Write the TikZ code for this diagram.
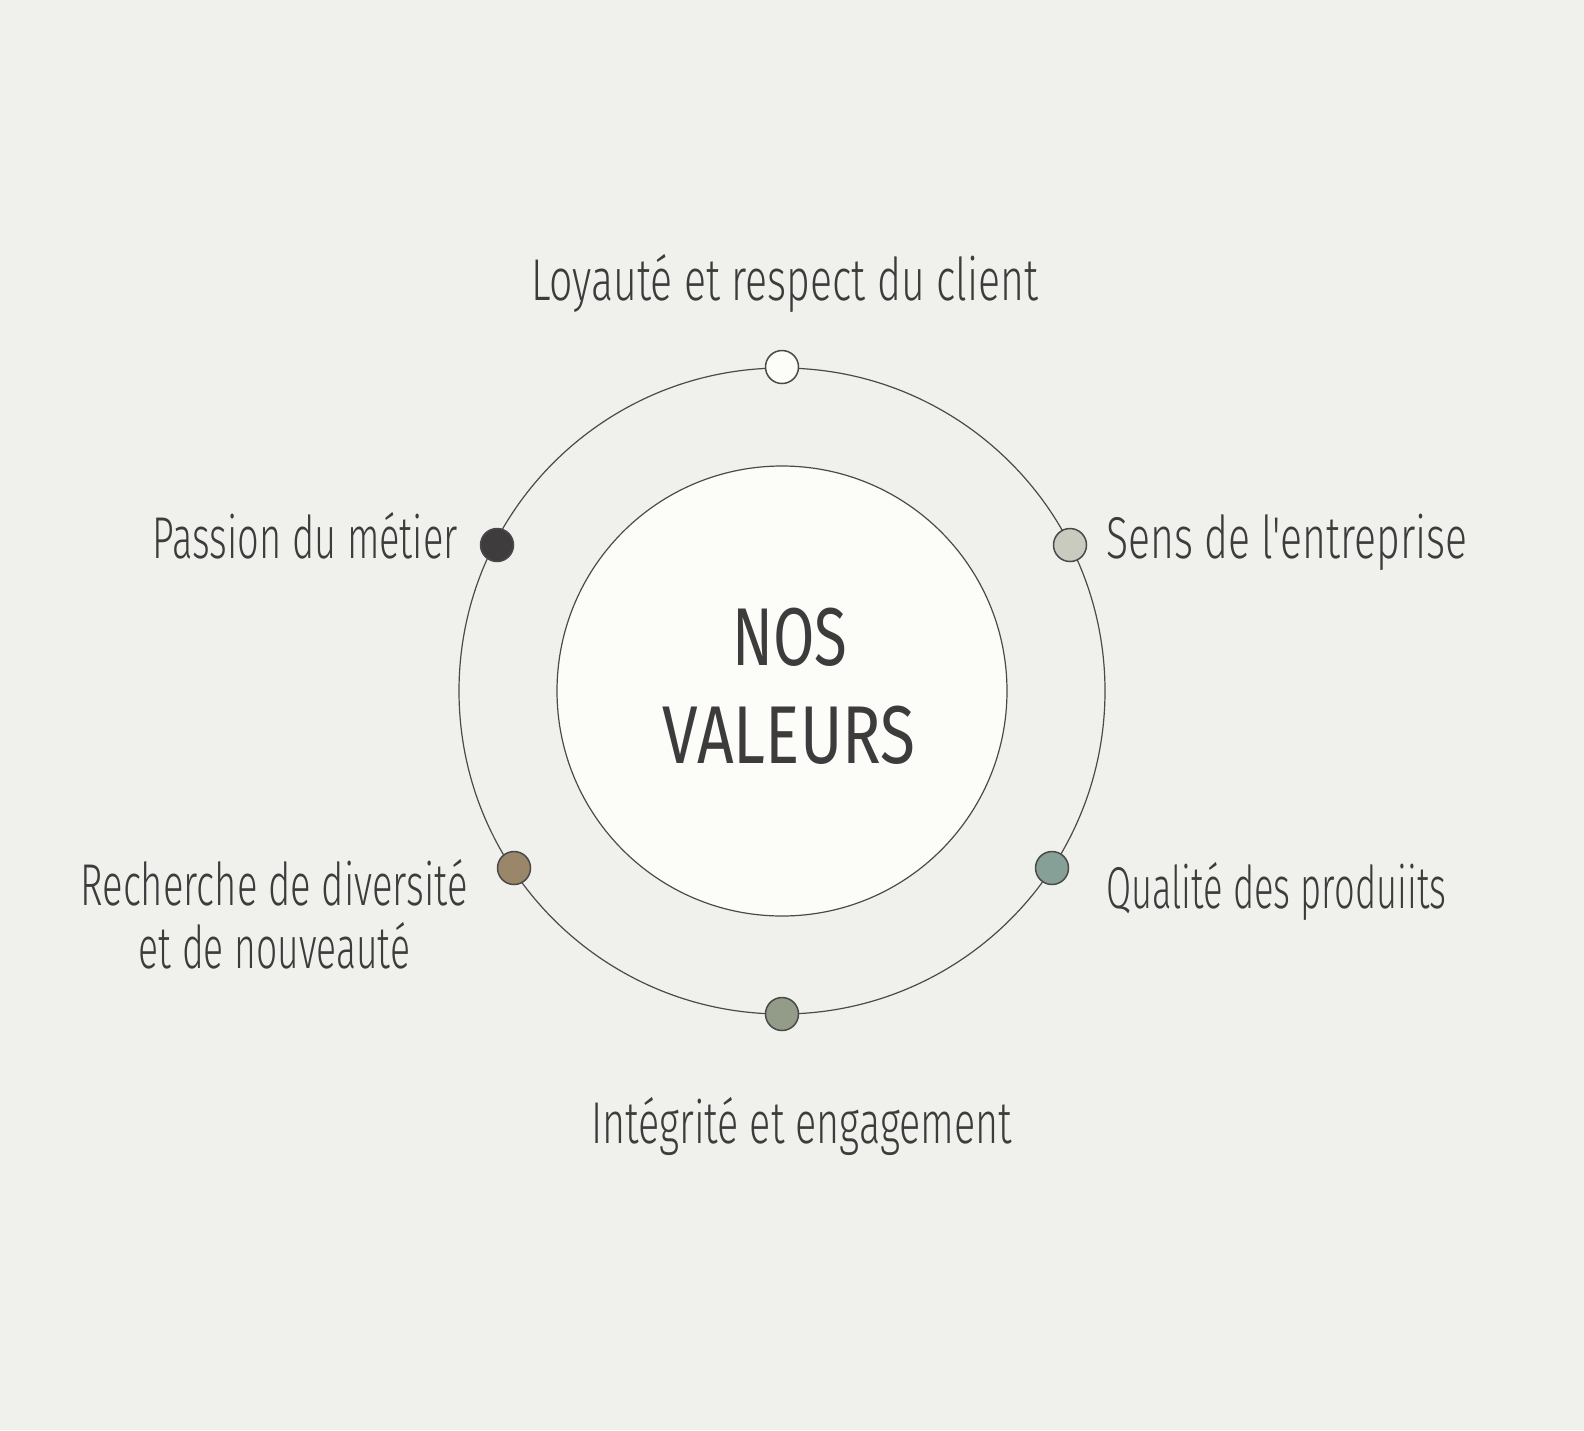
\documentclass[tikz,border=0pt]{standalone}
\usepackage{fontspec}
\usepackage{graphicx}
\newfontfamily\hand{Fira Sans}[UprightFont=* Light]
\newfontfamily\handb{Fira Sans}
\definecolor{bgc}{HTML}{F0F0EC}
\definecolor{innerc}{HTML}{FCFCF9}
\definecolor{linec}{HTML}{4A4A4A}
\definecolor{txtc}{HTML}{3D3B3C}
\definecolor{dotA}{HTML}{FCFCF9}
\definecolor{dotB}{HTML}{C9CBBE}
\definecolor{dotC}{HTML}{87A097}
\definecolor{dotD}{HTML}{939C88}
\definecolor{dotE}{HTML}{9A8769}
\definecolor{dotF}{HTML}{3F3C3E}
\newcommand\fitw[2]{\resizebox{#1}{\height}{#2}}
\tikzset{
  ring/.style={circle, draw=linec, line width=1.2pt, inner sep=0pt},
  valdot/.style={circle, draw=linec, line width=1.5pt, minimum size=33pt, inner sep=0pt},
  lbl/.style={inner sep=0pt, text=txtc, font=\hand\fontsize{59}{70}\selectfont},
  ttl/.style={inner sep=0pt, text=txtc, font=\handb\fontsize{82}{96}\selectfont, anchor=base}
}
\begin{document}
\begin{tikzpicture}[x=1pt,y=-1pt]
\fill[bgc] (0,0) rectangle (1584,1430);
\useasboundingbox (0,0) rectangle (1584,1430);
\node[ring, minimum size=646pt] (outer) at (782,691) {};
\node[ring, fill=innerc, minimum size=450pt] (inner) at (782,691) {};
\node[valdot, fill=dotA] (dloy) at (782,367) {};
\node[valdot, fill=dotB] (dsens) at (1070,545) {};
\node[valdot, fill=dotC] (dqual) at (1052,868) {};
\node[valdot, fill=dotD] (dint) at (782,1014) {};
\node[valdot, fill=dotE] (drech) at (514,868) {};
\node[valdot, fill=dotF] (dpass) at (497,545) {};
\node[lbl, anchor=base] (tloy) at (784.5,300) {\fitw{507pt}{Loyauté et respect du client}};
\node[lbl, anchor=base east] (tpass) at (458,558) {\fitw{305pt}{Passion du métier}};
\node[lbl, anchor=base west] (tsens) at (1106,558) {\fitw{361pt}{Sens de l'entreprise}};
\node[lbl, anchor=base west] (tqual) at (1106,908) {\fitw{340pt}{Qualité des produiits}};
\node[lbl, anchor=base] (trech1) at (274,905) {\fitw{387pt}{Recherche de diversité}};
\node[lbl, anchor=base] (trech2) at (274.5,968) {\fitw{271pt}{et de nouveauté}};
\node[lbl, anchor=base] (tint) at (801.5,1143) {\fitw{421pt}{Intégrité et engagement}};
\node[ttl] (tnos) at (790,665) {\fitw{115pt}{NOS}};
\node[ttl] (tval) at (789,763) {\fitw{253pt}{VALEURS}};
\end{tikzpicture}
\end{document}
